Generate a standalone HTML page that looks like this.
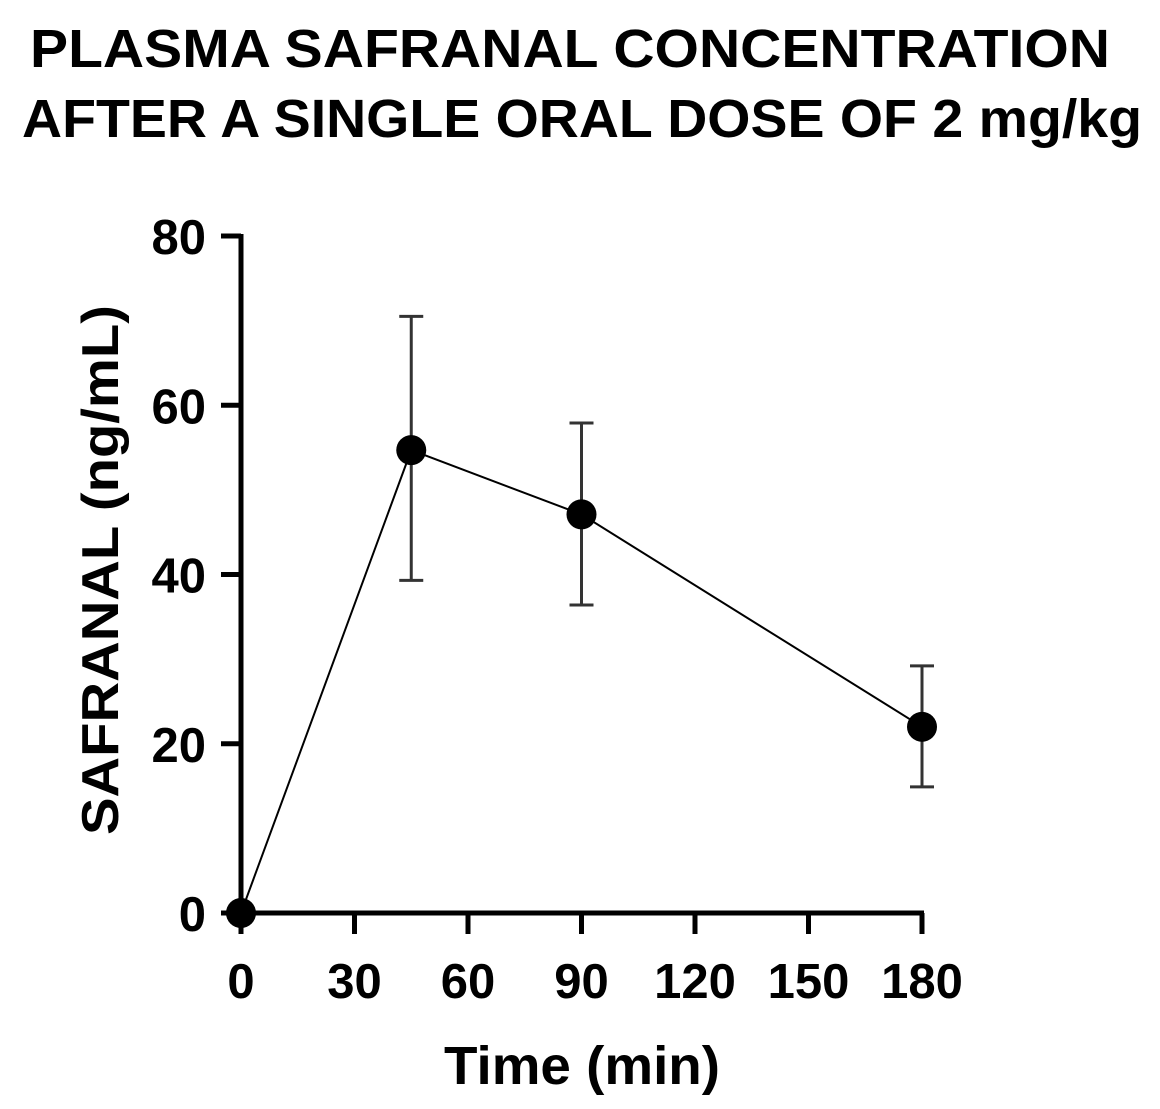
<!DOCTYPE html>
<html><head><meta charset="utf-8"><style>
html,body{margin:0;padding:0;background:#fff;}
svg{display:block;font-family:"Liberation Sans",Arial,sans-serif;font-weight:bold;}
</style></head><body>
<svg width="1160" height="1109" viewBox="0 0 1160 1109">
<text x="570" y="67" text-anchor="middle" font-size="54" textLength="1080" lengthAdjust="spacingAndGlyphs">PLASMA SAFRANAL CONCENTRATION</text>
<text x="582" y="137" text-anchor="middle" font-size="54" textLength="1120" lengthAdjust="spacingAndGlyphs">AFTER A SINGLE ORAL DOSE OF 2 mg/kg</text>
<g id="axes"></g>
<g id="marks"></g>
<text x="582" y="1084" text-anchor="middle" font-size="54" textLength="276" lengthAdjust="spacingAndGlyphs">Time (min)</text>
<text transform="translate(118,570) rotate(-90)" text-anchor="middle" font-size="52" textLength="530" lengthAdjust="spacingAndGlyphs">SAFRANAL (ng/mL)</text>
</svg>
<script>
const times=[0,45,90,180];
const means=[0,54.7,47.1,22.0];
const errHigh=[0,70.5,57.9,29.2];
const errLow=[0,39.3,36.4,14.9];
const xTicks=[0,30,60,90,120,150,180];
const yTicks=[0,20,40,60,80];
const NS="http://www.w3.org/2000/svg";
function xs(v){return 241+v*(922-241)/180;}
function ys(v){return 913-v*(913-236)/80;}
function mk(tag,attrs,parent){const e=document.createElementNS(NS,tag);for(const k in attrs)e.setAttribute(k,attrs[k]);parent.appendChild(e);return e;}
const axes=document.getElementById('axes'),marks=document.getElementById('marks');
let e=mk('line',{x1:241,y1:234,x2:241,y2:915,stroke:'#000','stroke-width':5},axes);


e=mk('line',{x1:239,y1:913,x2:924,y2:913,stroke:'#000','stroke-width':5},axes);


yTicks.forEach(v=>{
 const t=mk('line',{x1:221,y1:ys(v),x2:241,y2:ys(v),stroke:'#000','stroke-width':5},axes);
 
 
 const l=mk('text',{x:206,y:ys(v)+18,'text-anchor':'end','font-size':49},axes);l.textContent=v;
 
 
});
xTicks.forEach(v=>{
 const t=mk('line',{x1:xs(v),y1:913,x2:xs(v),y2:934,stroke:'#000','stroke-width':5},axes);
 
 
 const l=mk('text',{x:xs(v),y:998,'text-anchor':'middle','font-size':49},axes);l.textContent=v;
 
 
});
const pts=times.map((t,i)=>xs(t)+','+ys(means[i])).join(' ');
e=mk('polyline',{points:pts,fill:'none',stroke:'#000','stroke-width':2},marks);


times.forEach((t,i)=>{
 const x=xs(t);
 if(errHigh[i]>means[i]||errLow[i]<means[i]){
  const g=mk('g',{stroke:'#333','stroke-width':3},marks);
  
  
  mk('line',{x1:x,y1:ys(errHigh[i]),x2:x,y2:ys(errLow[i])},g);
  mk('line',{x1:x-12,y1:ys(errHigh[i]),x2:x+12,y2:ys(errHigh[i])},g);
  mk('line',{x1:x-12,y1:ys(errLow[i]),x2:x+12,y2:ys(errLow[i])},g);
 }
 const c=mk('circle',{cx:x,cy:ys(means[i]),r:15,fill:'#000'},marks);
 
 
});
</script>
</body></html>
